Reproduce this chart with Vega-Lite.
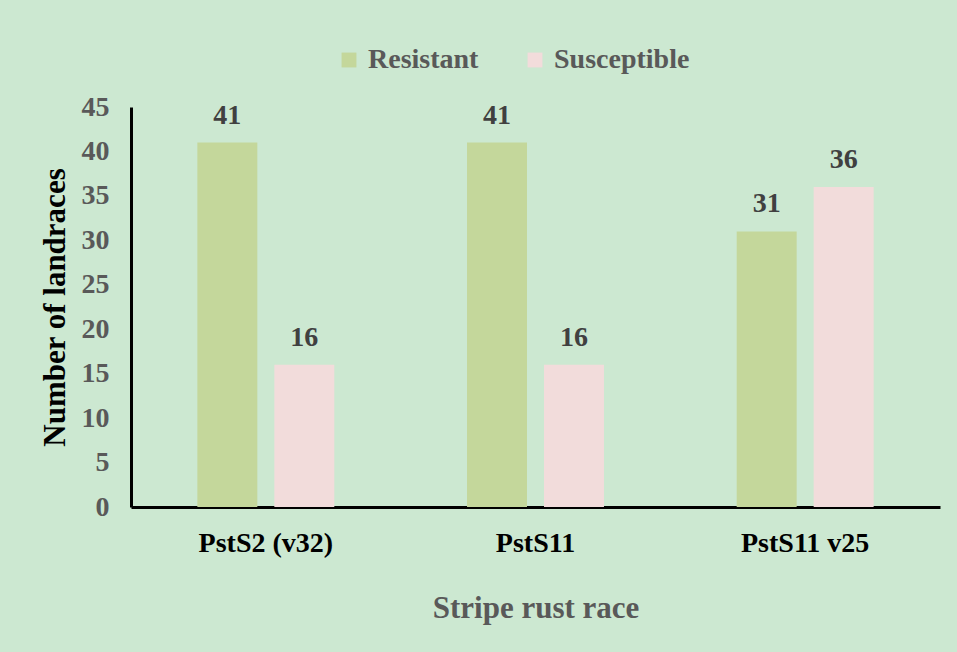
{
  "$schema": "https://vega.github.io/schema/vega-lite/v6.json",
  "autosize": {"type": "none"},
  "width": 809,
  "height": 400,
  "padding": {"left": 131, "top": 107, "right": 17, "bottom": 145},
  "background": "#cce8d1",
  "config": {
    "view": {"stroke": null},
    "font": "Liberation Serif"
  },
  "data": {
    "values": [
      {"race": "PstS2 (v32)", "reaction": "Resistant", "count": 41},
      {"race": "PstS2 (v32)", "reaction": "Susceptible", "count": 16},
      {"race": "PstS11", "reaction": "Resistant", "count": 41},
      {"race": "PstS11", "reaction": "Susceptible", "count": 16},
      {"race": "PstS11 v25", "reaction": "Resistant", "count": 31},
      {"race": "PstS11 v25", "reaction": "Susceptible", "count": 36}
    ]
  },
  "encoding": {
    "x": {
      "field": "race", "type": "nominal", "sort": null,
      "scale": {"paddingInner": 0, "paddingOuter": 0},
      "axis": {
        "title": "Stripe rust race", "labelAngle": 0,
        "labelFont": "Liberation Serif", "labelFontSize": 28, "labelFontWeight": "bold", "labelColor": "#000000",
        "labelPadding": 22,
        "titleFont": "Liberation Serif", "titleFontSize": 31, "titleFontWeight": "bold", "titleColor": "#595959",
        "titlePadding": 36,
        "domainColor": "#000000", "domainWidth": 3, "ticks": false
      }
    },
    "xOffset": {
      "field": "reaction", "type": "nominal",
      "scale": {"paddingInner": 0.221, "paddingOuter": 0.862}
    },
    "y": {
      "field": "count", "type": "quantitative",
      "scale": {"domain": [0, 45]},
      "axis": {
        "title": "Number of landraces", "values": [0,5,10,15,20,25,30,35,40,45],
        "grid": false, "ticks": false,
        "labelFont": "Liberation Serif", "labelFontSize": 28, "labelFontWeight": "bold", "labelColor": "#595959",
        "labelPadding": 22,
        "titleFont": "Liberation Serif", "titleFontSize": 31, "titleFontWeight": "bold", "titleColor": "#000000",
        "titlePadding": 10,
        "domainColor": "#000000", "domainWidth": 3
      }
    }
  },
  "layer": [
    {
      "mark": {"type": "bar"},
      "encoding": {
        "color": {
          "field": "reaction", "type": "nominal",
          "scale": {"domain": ["Resistant", "Susceptible"], "range": ["#c4d79b", "#f2dcdb"]},
          "legend": {
            "title": null, "orient": "none", "direction": "horizontal",
            "legendX": 204, "legendY": -61,
            "symbolType": "square", "symbolSize": 220, "symbolStrokeWidth": 0, "symbolOpacity": 1,
            "labelFont": "Liberation Serif", "labelFontSize": 28, "labelFontWeight": "bold", "labelColor": "#595959",
            "columnPadding": 42, "labelOffset": 5
          }
        }
      }
    },
    {
      "mark": {"type": "text", "dy": -27, "font": "Liberation Serif", "fontSize": 28, "fontWeight": "bold", "color": "#404040"},
      "encoding": {"text": {"field": "count", "type": "quantitative"}}
    }
  ]
}
